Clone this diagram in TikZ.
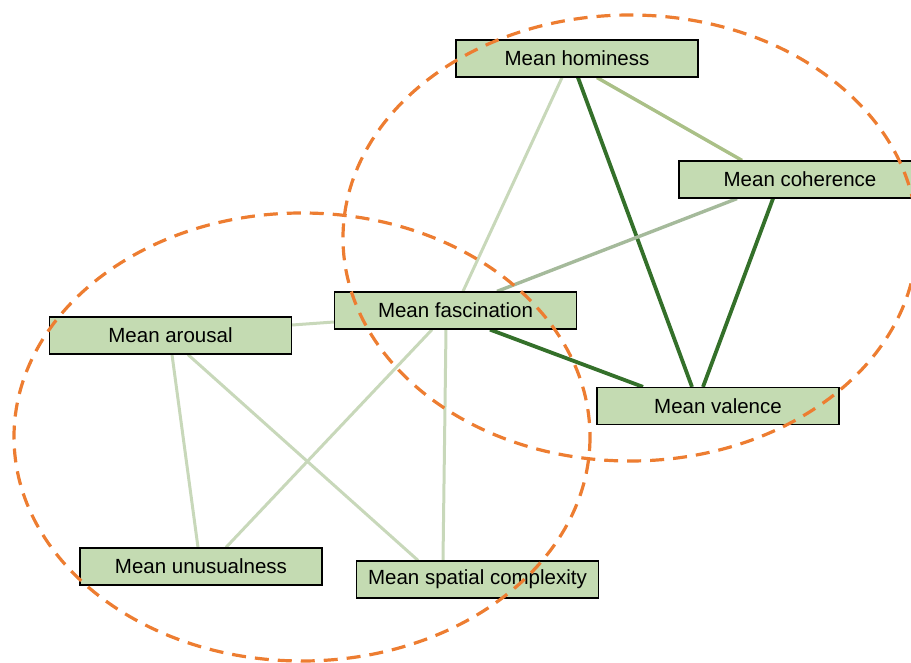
\documentclass[tikz,border=0pt]{standalone}
\usepackage{fontspec}
\setmainfont{Liberation Sans}
\definecolor{nodefill}{RGB}{196,219,178}
\definecolor{lightedge}{RGB}{200,216,186}
\definecolor{oliveedge}{RGB}{170,192,135}
\definecolor{grayedge}{RGB}{165,186,155}
\definecolor{darkedge}{RGB}{52,112,42}
\definecolor{dashorange}{RGB}{237,125,49}
\pgfdeclarelayer{bg}
\pgfsetlayers{bg,main}
\begin{document}
\begin{tikzpicture}[x=1pt,y=-1pt,
  box/.style={draw=black,line width=1.2pt,fill=nodefill,minimum width=242pt,minimum height=37pt,inner sep=0pt,font=\fontsize{20.5}{24}\selectfont},
  lightlink/.style={draw=lightedge,line width=3pt},
  olivelink/.style={draw=oliveedge,line width=3.4pt},
  graylink/.style={draw=grayedge,line width=3.4pt},
  darklink/.style={draw=darkedge,line width=3.8pt},
  cluster/.style={draw=dashorange,line width=3.2pt,dash pattern=on 14pt off 9pt}]
\useasboundingbox (0,0) rectangle (911,663);
\node[box] (hom) at (577,58.5) {Mean hominess};
\node[box] (coh) at (800,179.5) {Mean coherence};
\node[box] (fas) at (455.5,310.5) {Mean fascination};
\node[box] (aro) at (170.5,335.5) {Mean arousal};
\node[box] (val) at (718,406) {Mean valence};
\node[box] (unu) at (201,566.5) {Mean unusualness};
\node[box] (spa) at (477.5,579.5) {Mean spatial complexity};
\begin{pgfonlayer}{bg}
\draw[lightlink] ([xshift=-15pt]hom.south) -- ([xshift=7.5pt]fas.north);
\draw[darklink] ([xshift=1pt]hom.south) -- ([xshift=-26pt]val.north);
\draw[olivelink] ([xshift=20pt]hom.south) -- ([xshift=-58pt]coh.north);
\draw[graylink] ([xshift=-63pt]coh.south) -- ([xshift=41.5pt]fas.north);
\draw[darklink] ([xshift=-27pt]coh.south) -- ([xshift=-15pt]val.north);
\draw[darklink] ([xshift=34.5pt]fas.south) -- ([xshift=-75pt]val.north);
\draw[lightlink] ([yshift=10.5pt]aro.east) -- ([yshift=-11.5pt]fas.west);
\draw[lightlink] ([xshift=-23.5pt]fas.south) -- ([xshift=25pt]unu.north);
\draw[lightlink] ([xshift=-9.5pt]fas.south) -- ([xshift=-34.5pt]spa.north);
\draw[lightlink] ([xshift=1.5pt]aro.south) -- ([xshift=-3pt]unu.north);
\draw[lightlink] ([xshift=17.5pt]aro.south) -- ([xshift=-59.5pt]spa.north);
\end{pgfonlayer}
\draw[cluster] (630,238) ellipse [x radius=287, y radius=223];
\draw[cluster] (302,437) ellipse [x radius=288, y radius=224];
\end{tikzpicture}
\end{document}
